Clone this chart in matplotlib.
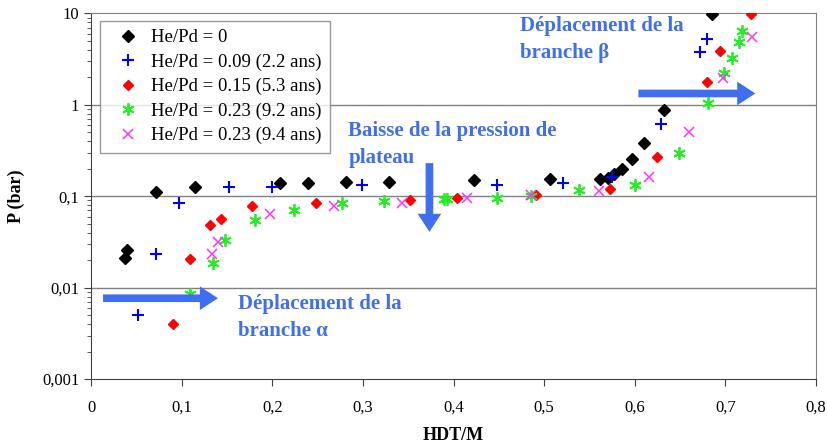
import matplotlib
matplotlib.use("Agg")
import matplotlib.pyplot as plt
from matplotlib.ticker import FixedLocator, LogLocator, NullFormatter

# He/Pd = 0
x0 = [0.0375, 0.0394, 0.0714, 0.115, 0.209, 0.239, 0.281, 0.329, 0.423, 0.507,
      0.562, 0.571, 0.577, 0.586, 0.597, 0.610, 0.632, 0.685]
p0 = [0.0209, 0.0257, 0.112, 0.127, 0.140, 0.140, 0.144, 0.144, 0.150, 0.153,
      0.154, 0.159, 0.173, 0.201, 0.255, 0.384, 0.875, 9.75]
# He/Pd = 0.09 (2.2 ans)
x1 = [0.052, 0.072, 0.0975, 0.152, 0.200, 0.299, 0.448, 0.521, 0.575, 0.629, 0.672, 0.680]
p1 = [0.0050, 0.0231, 0.0848, 0.127, 0.127, 0.132, 0.134, 0.138, 0.161, 0.615, 3.74, 5.23]
# He/Pd = 0.15 (5.3 ans)
x2 = [0.090, 0.109, 0.131, 0.143, 0.178, 0.248, 0.352, 0.404, 0.491, 0.573,
      0.624, 0.680, 0.694, 0.728]
p2 = [0.0040, 0.0204, 0.0487, 0.0561, 0.078, 0.0848, 0.092, 0.096, 0.103, 0.120,
      0.270, 1.76, 3.90, 9.9]
# He/Pd = 0.23 (9.2 ans)
x3 = [0.109, 0.134, 0.148, 0.181, 0.224, 0.277, 0.323, 0.389, 0.393, 0.448,
      0.486, 0.539, 0.600, 0.649, 0.681, 0.699, 0.707, 0.715, 0.718]
p3 = [0.0085, 0.0187, 0.0331, 0.0552, 0.0705, 0.0834, 0.0883, 0.093, 0.094, 0.096,
      0.101, 0.117, 0.132, 0.298, 1.04, 2.24, 3.27, 4.89, 6.40]
# He/Pd = 0.23 (9.4 ans)
x4 = [0.1336, 0.1405, 0.198, 0.268, 0.343, 0.415, 0.486, 0.561, 0.616, 0.660, 0.697, 0.729]
p4 = [0.0231, 0.0313, 0.0637, 0.078, 0.0848, 0.0946, 0.103, 0.115, 0.161, 0.507, 1.95, 5.46]

labels = ["He/Pd = 0", "He/Pd = 0.09 (2.2 ans)", "He/Pd = 0.15 (5.3 ans)",
          "He/Pd = 0.23 (9.2 ans)", "He/Pd = 0.23 (9.4 ans)"]
xticks = [0, 0.1, 0.2, 0.3, 0.4, 0.5, 0.6, 0.7, 0.8]
xticklabels = ["0", "0,1", "0,2", "0,3", "0,4", "0,5", "0,6", "0,7", "0,8"]
yticks = [0.001, 0.01, 0.1, 1, 10]
yticklabels = ["0,001", "0,01", "0,1", "1", "10"]

plt.rcParams["font.family"] = ["Liberation Serif", "DejaVu Serif"]
BLUE = "#3f6ff0"

fig = plt.figure(figsize=(8.28, 4.45), dpi=100)
ax = fig.add_axes([0.110, 0.148, 0.8755, 0.822])
ax.set_yscale("log")
ax.set_xlim(0, 0.8); ax.set_ylim(0.001, 10)

for y in [0.01, 0.1, 1]:
    ax.axhline(y, color="#808080", lw=1, zorder=0)

ax.plot(x0, p0, ls="none", marker="D", ms=6, color="black", label=labels[0], zorder=3)
ax.plot(x1, p1, ls="none", marker="+", ms=9, mew=1.5, color="#0000ff", label=labels[1], zorder=3)
ax.plot(x2, p2, ls="none", marker="D", ms=5.5, color="#ff0000", label=labels[2], zorder=3)
ax.plot(x3, p3, ls="none", marker=(6, 2, 0), ms=9, mew=1.3, color="#22ee22", label=labels[3], zorder=3)
ax.plot(x4, p4, ls="none", marker="x", ms=7, mew=1.1, color="#ff33ff", label=labels[4], zorder=3)

leg = ax.legend(loc="upper left", bbox_to_anchor=(0.0, 1.005), fontsize=13.5, frameon=True,
                fancybox=False, edgecolor="#808080", handletextpad=0.25, handlelength=2.0,
                borderpad=0.45, labelspacing=0.38, borderaxespad=0.5)
leg.get_frame().set_linewidth(1)

ax.xaxis.set_major_locator(FixedLocator(xticks))
ax.set_xticklabels(xticklabels)
ax.yaxis.set_major_locator(FixedLocator(yticks))
ax.set_yticklabels(yticklabels)
ax.yaxis.set_minor_locator(LogLocator(base=10, subs=range(2, 10)))
ax.yaxis.set_minor_formatter(NullFormatter())
ax.tick_params(axis="both", which="major", direction="out", length=5, labelsize=12, color="#404040")
ax.tick_params(axis="y", which="minor", direction="out", length=3, color="#404040")
ax.tick_params(axis="x", pad=10)

for s in ["top", "right"]:
    ax.spines[s].set_color("#808080")
for s in ["left", "bottom"]:
    ax.spines[s].set_color("#404040")

ax.set_xlabel("HDT/M", fontsize=13, fontweight="bold", labelpad=8)
ax.set_ylabel("P (bar)", fontsize=13, fontweight="bold", labelpad=12)

arrow = dict(arrowstyle="simple,head_width=1.7,head_length=1.3,tail_width=0.55",
             color=BLUE, lw=0, shrinkA=0, shrinkB=0)
ax.annotate("", xy=(0.140, 0.00767), xytext=(0.0132, 0.00767), arrowprops=arrow)
ax.annotate("", xy=(0.733, 1.33), xytext=(0.604, 1.33), arrowprops=arrow)
ax.annotate("", xy=(0.3734, 0.0408), xytext=(0.3734, 0.230), arrowprops=arrow)

tk = dict(color=BLUE, fontsize=15, fontweight="bold", va="center", ha="left",
          linespacing=1.45)
ax.text(0.162, 0.0047, "Déplacement de la\nbranche α", **tk)
ax.text(0.4735, 5.2, "Déplacement de la\nbranche β", **tk)
ax.text(0.284, 0.37, "Baisse de la pression de\nplateau", **tk)

fig.savefig("out.png", dpi=100)
